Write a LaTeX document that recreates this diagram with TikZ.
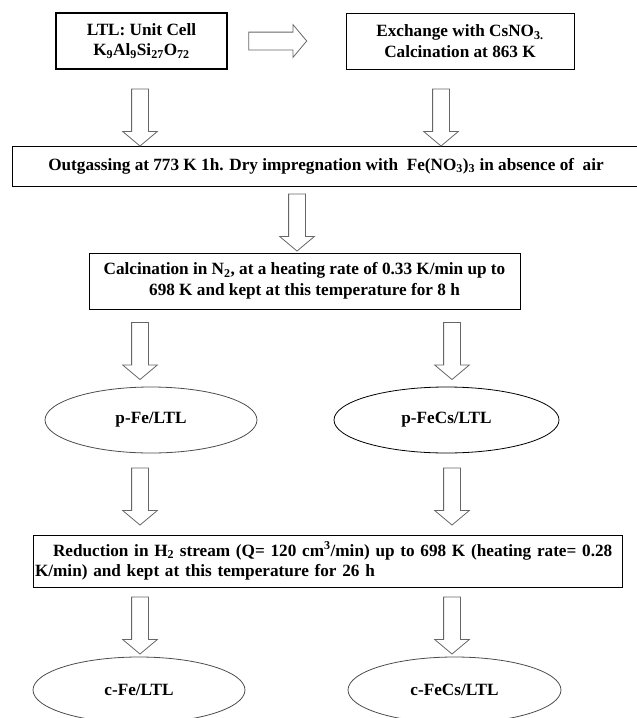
\documentclass[tikz,border=0pt]{standalone}
\usepackage{fontspec}
\setmainfont{Liberation Serif}
\usepackage{tikz}
\usetikzlibrary{positioning, shapes.arrows, shapes.geometric}

\begin{document}
\begin{tikzpicture}[x=1pt, y=-1pt,
  font=\bfseries\fontsize{17.2}{20.5}\selectfont,
  box/.style={draw, line width=0.8pt, align=center, inner sep=0pt},
  oval/.style={draw=black!70, line width=0.8pt, ellipse, inner sep=0pt, minimum height=66pt},
  blk/.style={single arrow, draw=black!60, fill=white, line width=0.8pt, inner sep=8pt,
    minimum height=57pt, single arrow head extend=9pt, single arrow tip angle=100},
  down/.style={blk, shape border rotate=270}]

\useasboundingbox (0,0) rectangle (637,718);

% Starting material and Cs exchange
\node[box, line width=1.6pt, minimum width=171pt, minimum height=56pt] (ltl) at (141.5,41)
  {LTL: Unit Cell\\K\textsubscript{9}Al\textsubscript{9}Si\textsubscript{27}O\textsubscript{72}};
\node[box, minimum width=228pt, minimum height=56pt] (exch) at (460,41)
  {Exchange with CsNO\textsubscript{3.}\\Calcination at 863 K};
\node[blk, minimum height=58pt, inner sep=8.5pt, single arrow head extend=7.5pt] (toexch) at (274,41) {};

% Impregnation and calcination
\node[box, minimum width=628pt, minimum height=40pt] (outg) at (326,166)
  {Outgassing at 773 K 1h. Dry impregnation with\ \ Fe(NO\textsubscript{3})\textsubscript{3} in absence of\ \ air};
\node[box, minimum width=431pt, minimum height=56pt] (calc) at (304.5,281)
  {Calcination in N\textsubscript{2}, at a heating rate of 0.33 K/min up to\\698 K and kept at this temperature for 8 h};

% Precursors
\node[oval, minimum width=212pt] (pfe) at (151,420) {p-Fe/LTL};
\node[oval, draw=black, minimum width=225pt] (pfecs) at (446.5,420) {p-FeCs/LTL};

% Reduction
\node[box, minimum width=589pt, minimum height=52pt, text width=585pt, align=left] (red) at (327.5,561)
  {\hspace*{18pt}Reduction in H\textsubscript{2} stream (Q= 120 cm\textsuperscript{3}/min) up to 698 K (heating rate= 0.28\\K/min) and kept at this temperature for 26 h};

% Catalysts
\node[oval, minimum width=212pt] (cfe) at (139,690) {c-Fe/LTL};
\node[oval, minimum width=213pt] (cfecs) at (454.5,690) {c-FeCs/LTL};

% Block arrows
\foreach \ax/\ay [count=\i] in {140/114, 441/114, 297/219, 140/347.5, 452/347.5, 140/493, 452/493, 140/622, 452/622}
  \node[down] (dn\i) at (\ax,\ay) {};

\end{tikzpicture}
\end{document}
